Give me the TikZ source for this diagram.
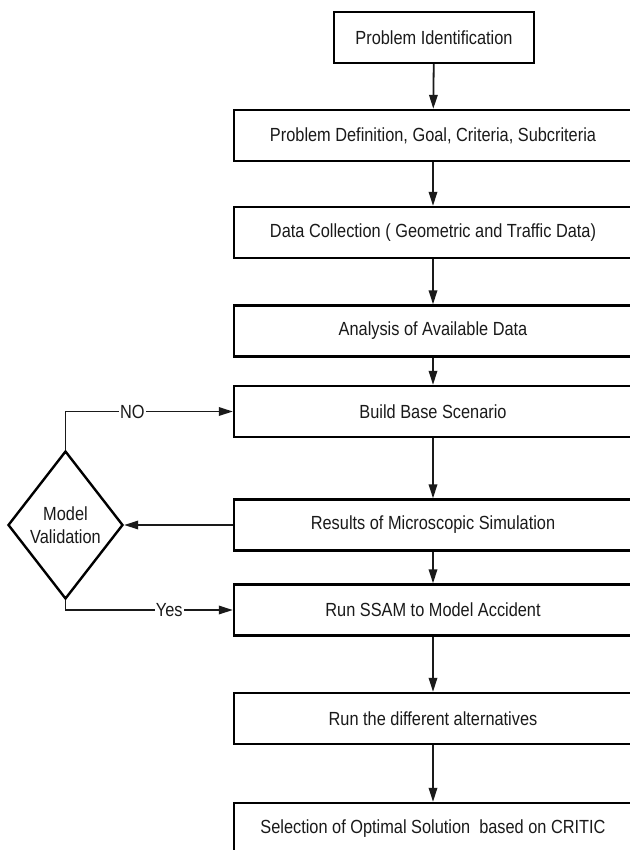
\documentclass[tikz,border=0pt]{standalone}
\usepackage{fontspec}
\setmainfont{Liberation Sans}[FakeStretch=0.86]
\usetikzlibrary{arrows.meta,shapes.geometric}
\definecolor{ink}{HTML}{1A1A1A}
\begin{document}
\begin{tikzpicture}[x=1pt,y=-1pt,
  every node/.style={font=\fontsize{19}{23}\selectfont, text=ink},
  box/.style={draw=black, line width=2.4pt, rectangle, minimum height=51pt, inner sep=0pt},
  wide/.style={box, minimum width=398pt},
  arr/.style={draw=ink, line width=1.8pt, -{Triangle[length=14pt,width=8.5pt]}},
  lbl/.style={fill=white, inner sep=1pt}]
\useasboundingbox[fill=white] (0,0) rectangle (629,850);
\node[box, minimum width=200pt] (pi) at (434,37.5) {Problem Identification};
\node[wide] (pd) at (433,135.5) {Problem Definition, Goal, Criteria, Subcriteria};
\node[wide] (dc) at (433,232.5) {Data Collection ( Geometric and Traffic Data)};
\node[wide] (an) at (433,331) {Analysis of Available Data};
\node[wide] (bb) at (433,411.5) {Build Base Scenario};
\node[wide] (rs) at (433,525) {Results of Microscopic Simulation};
\node[wide] (ss) at (433,610) {Run SSAM to Model Accident};
\node[wide] (alt) at (433,718.5) {Run the different alternatives};
\node[wide, minimum height=54pt, text depth=6pt] (sel) at (433,830) {Selection of Optimal Solution\ \ based on CRITIC};
\node[diamond, draw=black, line width=2.4pt, minimum width=115pt, minimum height=148pt, inner sep=0pt] (mv) at (65.5,525) {};
\node[align=center, inner sep=0pt] (mvt) at (mv.center) {Model\\Validation};
\draw[arr] (pi) -- (pd);
\draw[arr] (pd) -- (dc);
\draw[arr] (dc) -- (an);
\draw[arr] (an) -- (bb);
\draw[arr] (bb) -- (rs);
\draw[arr] (rs) -- (ss);
\draw[arr] (ss) -- (alt);
\draw[arr] (alt) -- (sel);
\draw[arr] (rs.west) -- (mv.east);
\draw[arr] (mv.north) |- node[lbl, pos=0.7] {NO} (bb.west);
\draw[arr] (mv.south) |- node[lbl, pos=0.81] {Yes} (ss.west);
\end{tikzpicture}
\end{document}
